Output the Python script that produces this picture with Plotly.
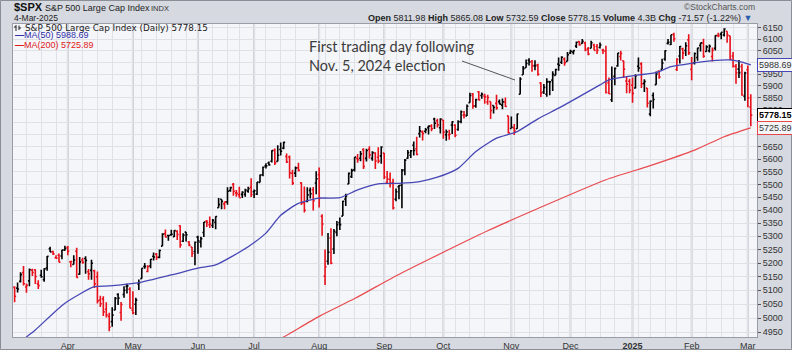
import math
import pandas as pd
import plotly.graph_objects as go

# ---------------- data ----------------
holidays = ["2024-03-29", "2024-05-27", "2024-06-19", "2024-07-04", "2024-09-02",
            "2024-11-28", "2024-12-25", "2025-01-01", "2025-01-09", "2025-01-20", "2025-02-17"]
dates = [d.strftime("%Y-%m-%d") for d in pd.bdate_range("2024-03-05", "2025-03-04")
         if d.strftime("%Y-%m-%d") not in holidays]

prev_close_start = 5130.95

opens = [
    5110.52, 5108.03, 5132.38, 5164.46, 5111.96, 5134.30, 5173.49, 5175.14, 5123.31, 5154.77, 5139.09, 5181.69, 5253.43, 5242.48, 5219.52, 5228.85, 5226.31, 5248.03,
    5257.97, 5204.29, 5194.37, 5244.05, 5158.95, 5211.37, 5217.03, 5167.88, 5172.95, 5171.51, 5149.67, 5064.59, 5068.97, 5031.52, 5005.44, 4987.33, 5028.85, 5084.86, 5019.88, 5084.65, 5114.13, 5103.78,
    5029.03, 5049.32, 5122.78, 5142.42, 5187.20, 5168.98, 5189.03, 5225.49, 5233.08, 5221.10, 5263.26, 5310.07, 5303.10, 5305.35, 5298.69, 5319.28, 5340.26, 5281.45, 5315.91, 5278.73, 5259.77, 5243.21,
    5297.15, 5278.24, 5314.48, 5357.80, 5343.81, 5341.22, 5353.00, 5409.13, 5441.93, 5424.08, 5431.11, 5476.15, 5499.99, 5466.77, 5459.58, 5460.73, 5460.71, 5473.59, 5488.48,
    5471.08, 5461.84, 5507.44, 5537.91, 5572.75, 5584.24, 5591.26, 5635.21, 5590.76, 5638.16, 5644.09, 5610.07, 5608.56, 5543.37, 5544.06, 5565.30, 5505.84, 5428.70, 5433.67, 5476.55, 5478.73, 5505.59,
    5537.84, 5376.63, 5151.14, 5206.42, 5293.13, 5252.57, 5314.44, 5351.88, 5376.98, 5442.37, 5501.13, 5530.50, 5557.23, 5602.88, 5603.09, 5637.77, 5602.89, 5639.66, 5602.89, 5624.51, 5607.30, 5612.74,
    5623.89, 5506.68, 5520.08, 5507.33, 5442.07, 5490.51, 5496.42, 5557.48, 5603.34, 5615.21, 5655.51, 5641.68, 5702.63, 5709.68, 5711.90, 5727.04, 5733.65, 5762.22, 5755.36, 5726.52,
    5757.73, 5698.14, 5698.19, 5737.80, 5737.16, 5719.14, 5751.80, 5778.36, 5775.09, 5829.81, 5866.74, 5816.58, 5875.62, 5859.43, 5857.82, 5832.70, 5834.50, 5817.80, 5826.75, 5833.93, 5819.68, 5832.65, 5775.34,
    5723.22, 5725.15, 5722.43, 5864.89, 5947.21, 5976.76, 6008.86, 6003.60, 5985.75, 5989.58, 5912.79, 5874.17, 5864.87, 5917.72, 5924.28, 5944.36, 5992.28, 6000.03, 6014.11, 6003.98,
    6040.11, 6042.97, 6069.39, 6089.03, 6081.38, 6083.01, 6057.59, 6060.15, 6074.29, 6068.17, 6063.79, 6052.55, 6047.65, 5912.71, 5842.00, 5940.25, 5984.74, 6024.97, 6006.17, 5920.67, 5919.74,
    5903.26, 5891.07, 5982.81, 5993.26, 5910.66, 5890.66, 5782.77, 5859.76, 5905.21, 5962.48, 5969.87, 6014.12, 6081.39, 6076.32, 6121.43, 5969.04, 6026.97, 6057.70, 6050.75, 6096.79,
    5969.65, 5998.14, 6020.45, 6072.22, 6083.13, 6046.40, 6049.32, 6025.08, 6060.59, 6115.52, 6121.60, 6117.76, 6134.50, 6114.82, 6026.69, 5982.73, 5970.87, 5981.88, 5856.74,
    5968.33, 5811.98,
]
highs = [
    5114.54, 5127.97, 5165.62, 5189.26, 5124.66, 5179.87, 5179.14, 5176.85, 5136.86, 5175.60, 5180.31, 5226.19, 5261.10, 5246.09, 5229.09, 5235.16, 5249.26, 5264.85,
    5263.95, 5208.34, 5228.75, 5256.59, 5222.18, 5219.57, 5224.81, 5178.43, 5211.78, 5175.03, 5168.43, 5079.84, 5077.96, 5056.66, 5019.02, 5038.84, 5076.12, 5089.48, 5057.75, 5114.62, 5123.49, 5110.83,
    5096.12, 5073.21, 5139.12, 5181.00, 5200.23, 5191.95, 5215.30, 5239.66, 5237.26, 5250.37, 5311.76, 5325.49, 5305.45, 5325.32, 5324.32, 5323.18, 5341.88, 5311.65, 5315.91, 5282.27, 5260.21, 5280.33,
    5302.11, 5298.80, 5354.16, 5362.35, 5375.08, 5365.79, 5375.95, 5447.25, 5441.93, 5432.39, 5488.50, 5490.38, 5505.53, 5478.31, 5490.66, 5472.88, 5483.14, 5490.81, 5523.64,
    5479.55, 5509.69, 5539.27, 5570.33, 5583.11, 5590.75, 5635.39, 5642.45, 5655.56, 5666.94, 5669.67, 5622.49, 5614.05, 5557.50, 5570.36, 5585.34, 5508.04, 5491.59, 5488.32, 5487.74, 5489.46, 5551.51,
    5566.16, 5383.89, 5250.89, 5312.34, 5330.64, 5328.03, 5358.34, 5371.20, 5436.50, 5463.22, 5546.23, 5561.98, 5608.30, 5620.51, 5632.68, 5643.22, 5641.82, 5651.62, 5631.18, 5627.03, 5646.95, 5651.37,
    5623.89, 5552.99, 5546.30, 5522.47, 5484.20, 5497.91, 5560.41, 5600.71, 5636.27, 5636.05, 5670.81, 5689.75, 5733.57, 5715.14, 5725.36, 5735.32, 5741.03, 5767.37, 5763.78, 5765.14,
    5757.73, 5719.14, 5718.78, 5753.34, 5739.60, 5757.60, 5796.80, 5795.03, 5822.13, 5871.41, 5870.36, 5846.52, 5878.46, 5872.17, 5866.92, 5863.04, 5834.85, 5817.80, 5862.82, 5842.92, 5847.19, 5850.94, 5775.34,
    5772.52, 5741.43, 5783.44, 5936.14, 5983.84, 6012.45, 6017.31, 6009.92, 6008.19, 5993.88, 5915.52, 5908.12, 5932.44, 5920.67, 5962.24, 5972.90, 6020.75, 6025.42, 6020.16, 6044.17,
    6053.58, 6052.07, 6089.84, 6092.27, 6099.97, 6088.51, 6065.40, 6092.59, 6079.68, 6078.58, 6085.19, 6057.68, 6070.67, 5935.52, 5982.06, 5978.25, 6040.10, 6049.75, 6006.17, 5940.79, 5929.74,
    5935.09, 5949.34, 6021.04, 6000.68, 5927.89, 5890.66, 5838.32, 5871.89, 5960.61, 5964.69, 6014.96, 6051.51, 6100.81, 6118.73, 6128.18, 6017.17, 6069.90, 6062.83, 6086.64, 6120.91,
    6022.13, 6042.48, 6062.86, 6084.03, 6101.28, 6073.38, 6076.28, 6063.09, 6116.91, 6127.47, 6129.63, 6147.43, 6134.50, 6114.82, 6043.65, 5992.65, 6009.82, 5993.69, 5959.40,
    5986.09, 5865.08,
]
lows = [
    5056.82, 5092.22, 5128.21, 5117.50, 5091.14, 5114.48, 5151.88, 5123.30, 5104.35, 5145.47, 5131.59, 5171.55, 5240.66, 5229.87, 5216.09, 5203.42, 5213.92, 5245.82,
    5229.20, 5184.05, 5194.37, 5146.06, 5157.21, 5197.35, 5160.78, 5138.70, 5138.77, 5107.94, 5052.47, 5039.83, 5007.25, 5001.89, 4953.56, 4969.40, 5027.96, 5047.02, 4990.58, 5073.14, 5088.65, 5035.31,
    5013.45, 5011.05, 5101.22, 5142.42, 5178.96, 5165.86, 5180.41, 5209.68, 5211.16, 5217.98, 5263.26, 5296.19, 5283.59, 5302.40, 5297.87, 5286.01, 5256.93, 5278.39, 5280.89, 5262.70, 5222.10, 5191.68,
    5234.32, 5257.63, 5297.64, 5335.36, 5331.33, 5331.52, 5327.25, 5409.13, 5403.75, 5403.75, 5420.40, 5471.32, 5455.56, 5452.03, 5447.59, 5446.56, 5451.87, 5467.54, 5451.12,
    5446.53, 5458.43, 5507.42, 5531.63, 5562.51, 5574.57, 5586.44, 5576.53, 5590.44, 5614.75, 5639.02, 5584.81, 5522.81, 5497.04, 5529.04, 5550.90, 5419.98, 5390.95, 5430.70, 5444.44, 5398.34, 5461.66,
    5410.42, 5302.03, 5119.26, 5193.56, 5195.54, 5233.85, 5300.58, 5324.37, 5376.98, 5415.33, 5501.13, 5525.17, 5550.74, 5585.50, 5591.57, 5560.95, 5590.75, 5602.34, 5593.48, 5560.95, 5583.71, 5581.79,
    5521.01, 5503.66, 5487.97, 5402.62, 5434.49, 5441.72, 5406.96, 5535.50, 5601.65, 5604.53, 5614.05, 5615.08, 5686.42, 5674.49, 5704.22, 5698.99, 5712.06, 5721.01, 5727.34, 5703.53,
    5681.28, 5674.00, 5677.89, 5701.16, 5688.14, 5714.56, 5745.02, 5764.76, 5775.09, 5829.81, 5804.48, 5808.34, 5840.25, 5846.11, 5824.79, 5821.17, 5762.41, 5784.92, 5799.98, 5823.08, 5802.22, 5811.28, 5702.86,
    5723.22, 5696.51, 5722.10, 5864.89, 5947.21, 5976.76, 5986.69, 5960.08, 5965.91, 5942.28, 5853.01, 5865.95, 5853.98, 5860.58, 5878.54, 5944.36, 5963.91, 5992.27, 5984.87, 6003.98,
    6035.33, 6033.39, 6061.06, 6070.72, 6079.98, 6047.77, 6029.89, 6060.15, 6051.25, 6035.77, 6059.14, 6035.19, 5867.79, 5866.07, 5832.30, 5902.57, 5981.44, 6007.37, 5932.95, 5869.16, 5868.86,
    5829.53, 5888.66, 5960.01, 5890.68, 5874.78, 5809.89, 5773.31, 5805.45, 5905.21, 5930.31, 5969.87, 6006.88, 6076.43, 6074.67, 6088.74, 5962.92, 5994.33, 6012.96, 6027.46, 6030.93,
    5923.93, 5990.87, 6007.06, 6046.83, 6019.96, 6045.24, 6042.34, 6003.00, 6051.00, 6107.62, 6099.51, 6111.15, 6084.59, 6008.56, 5977.83, 5908.49, 5932.69, 5858.78, 5837.66,
    5810.91, 5732.59,
]
closes = [
    5078.65, 5104.76, 5157.36, 5123.69, 5117.94, 5175.27, 5165.31, 5150.48, 5117.09, 5149.42, 5178.51, 5224.62, 5241.53, 5234.18, 5218.19, 5203.58, 5248.49, 5254.35,
    5243.77, 5205.81, 5211.49, 5147.21, 5204.34, 5202.39, 5209.91, 5160.64, 5199.06, 5123.41, 5061.82, 5051.41, 5022.21, 5011.12, 4967.23, 5010.60, 5070.55, 5071.63, 5048.42, 5099.96, 5116.17, 5035.69,
    5018.39, 5064.20, 5127.79, 5180.74, 5187.70, 5187.67, 5214.08, 5222.68, 5221.42, 5246.68, 5308.15, 5297.10, 5303.27, 5308.13, 5321.41, 5307.01, 5267.84, 5304.72, 5306.04, 5266.95, 5235.48, 5277.51,
    5283.40, 5291.34, 5354.03, 5352.96, 5346.99, 5360.79, 5375.32, 5421.03, 5433.74, 5431.60, 5473.23, 5487.03, 5473.17, 5464.62, 5447.87, 5469.30, 5477.90, 5482.87, 5460.48,
    5475.09, 5509.01, 5537.02, 5567.19, 5572.85, 5576.98, 5633.91, 5584.54, 5615.35, 5631.22, 5667.20, 5588.27, 5544.59, 5505.00, 5564.41, 5555.74, 5427.13, 5399.22, 5459.10, 5463.54, 5436.44, 5522.30,
    5446.68, 5346.56, 5186.33, 5240.03, 5199.50, 5319.31, 5344.16, 5344.39, 5434.43, 5455.21, 5543.22, 5554.25, 5608.25, 5597.12, 5620.85, 5570.64, 5634.61, 5616.84, 5625.80, 5592.18, 5591.96, 5648.40,
    5528.93, 5520.07, 5503.41, 5408.42, 5471.05, 5495.52, 5554.13, 5595.76, 5626.02, 5633.09, 5634.58, 5618.26, 5713.64, 5702.55, 5718.57, 5732.93, 5722.26, 5745.37, 5738.17, 5762.48,
    5708.75, 5709.54, 5699.94, 5751.07, 5695.94, 5751.13, 5792.04, 5780.05, 5815.03, 5859.85, 5815.26, 5842.47, 5841.47, 5864.67, 5853.98, 5851.20, 5797.42, 5809.86, 5808.12, 5823.52, 5832.92, 5813.67, 5705.45,
    5728.80, 5712.69, 5782.76, 5929.04, 5973.10, 5995.54, 6001.35, 5983.99, 5985.38, 5949.17, 5870.62, 5893.62, 5916.98, 5917.11, 5948.71, 5969.34, 5987.37, 6021.63, 5998.74, 6032.38,
    6047.15, 6049.88, 6086.49, 6075.11, 6090.27, 6052.85, 6034.91, 6084.19, 6051.25, 6051.09, 6074.08, 6050.61, 5872.16, 5867.08, 5930.85, 5974.07, 6040.04, 6037.59, 5970.84, 5906.94, 5881.63,
    5868.55, 5942.47, 5975.38, 5909.03, 5918.25, 5827.04, 5836.22, 5842.91, 5949.91, 5937.34, 5996.66, 6049.24, 6086.37, 6118.71, 6101.24, 6012.28, 6067.70, 6039.31, 6071.17, 6040.53,
    5994.57, 6037.88, 6061.48, 6083.57, 6025.99, 6066.44, 6068.50, 6051.97, 6115.07, 6114.63, 6129.58, 6144.15, 6117.52, 6013.13, 5983.25, 5955.25, 5956.06, 5861.57, 5954.50,
    5849.72, 5778.15,
]

ma50_dates = ["2024-03-05", "2024-03-11", "2024-03-14", "2024-03-28", "2024-04-12", "2024-04-19", "2024-05-03",
              "2024-05-20", "2024-06-03", "2024-06-11", "2024-06-27", "2024-07-08", "2024-07-15", "2024-07-23",
              "2024-08-01", "2024-08-12", "2024-08-20", "2024-08-29", "2024-09-10", "2024-09-19", "2024-09-27",
              "2024-10-08", "2024-10-16", "2024-10-25", "2024-11-05", "2024-11-14", "2024-11-25", "2024-12-05",
              "2024-12-16", "2024-12-19", "2024-12-30", "2025-01-06", "2025-01-15", "2025-01-23", "2025-02-03",
              "2025-02-12", "2025-02-21", "2025-02-27", "2025-03-04"]
ma50_values = [4898, 4933, 4958, 5053, 5113, 5116, 5128,
               5156, 5181, 5193, 5261, 5312, 5380, 5426,
               5446, 5448, 5478, 5502, 5504, 5511, 5528,
               5563, 5630, 5684, 5711, 5763, 5807, 5855,
               5904, 5925, 5939, 5946, 5956, 5981, 5996,
               6007, 6010, 6001, 5988.69]

ma200_dates = ["2024-07-08", "2024-07-16", "2024-08-01", "2024-08-19", "2024-09-06", "2024-09-24", "2024-10-22",
               "2024-11-14", "2024-12-18", "2025-01-13", "2025-02-04", "2025-02-19", "2025-03-04"]
ma200_values = [4900, 4933, 5006, 5070, 5147, 5213, 5321,
                5406, 5518, 5574, 5636, 5690, 5725.89]

month_ticks = ["2024-04-01", "2024-05-01", "2024-06-03", "2024-07-01", "2024-08-01", "2024-09-03",
               "2024-10-01", "2024-11-01", "2024-12-02", "2025-01-02", "2025-02-03", "2025-03-03"]
month_labels = ["Apr", "May", "Jun", "Jul", "Aug", "Sep", "Oct", "Nov", "Dec", "<b>2025</b>", "Feb", "Mar"]

y_ticks = list(range(4950, 6151, 50))
y_hidden = [6000, 5750, 5700]   # labels covered by the value tags

volume_text = "4.3B"

# ---------------- geometry helpers (pixel -> paper) ----------------
L, R, T, B = 13, 35, 24, 13
W, H = 792, 350
PW, PH = W - L - R, H - T - B


def pxx(px):
    return (px - L) / PW


def pxy(py):
    return (H - B - py) / PH


# ---------------- traces ----------------
prev = [prev_close_start] + closes[:-1]
up_idx = [i for i in range(len(closes)) if closes[i] >= prev[i]]
dn_idx = [i for i in range(len(closes)) if closes[i] < prev[i]]

RED = "#e8101a"
BLACK = "#000000"


def ohlc_trace(idx, color):
    return go.Ohlc(
        x=[dates[i] for i in idx],
        open=[opens[i] for i in idx],
        high=[highs[i] for i in idx],
        low=[lows[i] for i in idx],
        close=[closes[i] for i in idx],
        increasing=dict(line=dict(color=color, width=1.6)),
        decreasing=dict(line=dict(color=color, width=1.6)),
        tickwidth=0.5,
        showlegend=False,
        hoverinfo="skip",
    )


fig = go.Figure()
fig.add_trace(go.Scatter(x=ma200_dates, y=ma200_values, mode="lines",
                         line=dict(color="#e84a4d", width=1.2, shape="spline", smoothing=0.6),
                         showlegend=False, hoverinfo="skip"))
fig.add_trace(go.Scatter(x=ma50_dates, y=ma50_values, mode="lines",
                         line=dict(color="#4646b4", width=1.3, shape="spline", smoothing=0.6),
                         showlegend=False, hoverinfo="skip"))
fig.add_trace(ohlc_trace(up_idx, BLACK))
fig.add_trace(ohlc_trace(dn_idx, RED))

# weekly grid positions: first trading day of each week (skip weeks holding a month start)
month_set = set(month_ticks)
week_ticks = []
for i in range(1, len(dates)):
    a = pd.Timestamp(dates[i]).isocalendar()
    b = pd.Timestamp(dates[i - 1]).isocalendar()
    if (a[0], a[1]) != (b[0], b[1]):
        wk = [d for d in dates if pd.Timestamp(d).isocalendar()[:2] == a[:2]]
        if not any(d in month_set for d in wk):
            week_ticks.append(dates[i])

tickvals = week_ticks + month_ticks
ticktext = [""] * len(week_ticks) + month_labels

shapes = []
for m in month_ticks:
    shapes.append(dict(type="line", xref="x", yref="paper", x0=m, x1=m, y0=0, y1=1,
                       line=dict(color="#cdd0d8", width=2), layer="below"))
# pointer line for the note
shapes.append(dict(type="line", xref="paper", yref="paper", x0=pxx(462), y0=pxy(61), x1=pxx(515), y1=pxy(80),
                   line=dict(color="#555555", width=1)))
# legend OHLC glyph
shapes.append(dict(type="line", xref="paper", yref="paper", x0=pxx(16), x1=pxx(16), y0=pxy(25), y1=pxy(31),
                   line=dict(color="#222", width=1)))
shapes.append(dict(type="line", xref="paper", yref="paper", x0=pxx(14), x1=pxx(16), y0=pxy(27), y1=pxy(27),
                   line=dict(color="#222", width=1)))
shapes.append(dict(type="line", xref="paper", yref="paper", x0=pxx(19), x1=pxx(19), y0=pxy(25.5), y1=pxy(30),
                   line=dict(color="#222", width=1)))
shapes.append(dict(type="line", xref="paper", yref="paper", x0=pxx(19), x1=pxx(21), y0=pxy(28), y1=pxy(28),
                   line=dict(color="#222", width=1)))
# outer border
shapes.append(dict(type="rect", xref="paper", yref="paper", x0=pxx(0.5), x1=pxx(791.5), y0=pxy(349.5), y1=pxy(0.5),
                   line=dict(color="#8a8e97", width=1), fillcolor="rgba(0,0,0,0)", layer="below"))

ARIAL = "Liberation Sans"


def ann(text, x, y, size=9, color="#222", xanchor="left", family=ARIAL, yref="paper", xref="paper", **kw):
    d = dict(text=text, x=x, y=y, xref=xref, yref=yref, showarrow=False, xanchor=xanchor, yanchor="middle",
             font=dict(size=size, color=color, family=family))
    d.update(kw)
    return d


last = len(closes) - 1
chg = closes[last] - closes[last - 1]
chg_pct = chg / closes[last - 1] * 100
header = ("<b>Open</b> {:.2f} <b>High</b> {:.2f} <b>Low</b> {:.2f} <b>Close</b> {:.2f} "
          "<b>Volume</b> {} <b>Chg</b> {:.2f} ({:.2f}%) <span style='color:#2a5db0'>▼</span>").format(
    opens[last], highs[last], lows[last], closes[last], volume_text, chg, chg_pct)

annotations = [
    ann("<b>$SPX</b>", pxx(12), pxy(7), size=11, color="#111"),
    ann("S&P 500 Large Cap Index", pxx(43), pxy(7.5), size=9, color="#222"),
    ann("INDX", pxx(149), pxy(8), size=7.5, color="#333"),
    ann("4-Mar-2025", pxx(12), pxy(17.5), size=8.5, color="#222"),
    ann("©StockCharts.com", pxx(757), pxy(7), size=8.5, color="#555", xanchor="right"),
    ann(header, pxx(754), pxy(17.5), size=9, color="#222", xanchor="right"),
    ann("S&P 500 Large Cap Index (Daily) {:.2f}".format(closes[last]), pxx(23), pxy(28), size=8.8,
        color="#222", family="DejaVu Sans"),
    ann("<b>—</b>MA(50) {:.2f}".format(ma50_values[-1]), pxx(13), pxy(35.5), size=9, color="#3030a8"),
    ann("<b>—</b>MA(200) {:.2f}".format(ma200_values[-1]), pxx(13), pxy(45), size=9, color="#e01818"),
    ann("First trading day following<br>Nov. 5, 2024 election", pxx(307), pxy(56), size=14.5, color="#3c3c3c",
        family="Lato", align="left"),
    ann("{:.2f}".format(ma50_values[-1]), 1.0, math.log10(ma50_values[-1]), yref="y", size=9, color="#333",
        bgcolor="#f4f5f9", bordercolor="#4646b4", borderwidth=1, borderpad=1),
    ann("<b>{:.2f}</b>".format(closes[last]), 1.0, math.log10(closes[last]), yref="y", size=9, color="#000",
        bgcolor="#ffffff", bordercolor="#000000", borderwidth=1, borderpad=1),
    ann("{:.2f}".format(ma200_values[-1]), 1.0, math.log10(ma200_values[-1]), yref="y", size=9, color="#333",
        bgcolor="#f4f5f9", bordercolor="#e8474a", borderwidth=1, borderpad=1),
]

fig.update_layout(
    width=W, height=H,
    margin=dict(l=L, r=R, t=T, b=B, pad=0, autoexpand=False),
    paper_bgcolor="#d6d9e0",
    plot_bgcolor="#f5f6fa",
    showlegend=False,
    shapes=shapes,
    annotations=annotations,
    xaxis=dict(
        type="category", categoryorder="array", categoryarray=dates,
        range=[-0.55, len(dates) + 1.1], automargin=False,
        tickmode="array", tickvals=tickvals, ticktext=ticktext,
        showgrid=True, gridcolor="#dfe1e7", gridwidth=1,
        ticks="", tickfont=dict(size=9, color="#333", family=ARIAL),
        showline=True, mirror=True, linecolor="#9a9da5", linewidth=1,
        rangeslider=dict(visible=False), zeroline=False,
    ),
    yaxis=dict(
        type="log", side="right", automargin=False,
        range=[math.log10(4933), math.log10(6166)],
        tickmode="array", tickvals=y_ticks,
        ticktext=["" if v in y_hidden else str(v) for v in y_ticks],
        showgrid=True, gridcolor="#dfe1e7", gridwidth=1,
        ticks="outside", ticklen=3, tickcolor="#555",
        tickfont=dict(size=9, color="#333", family=ARIAL),
        showline=True, mirror=True, linecolor="#9a9da5", linewidth=1, zeroline=False,
    ),
)

fig.write_html("out.html")
